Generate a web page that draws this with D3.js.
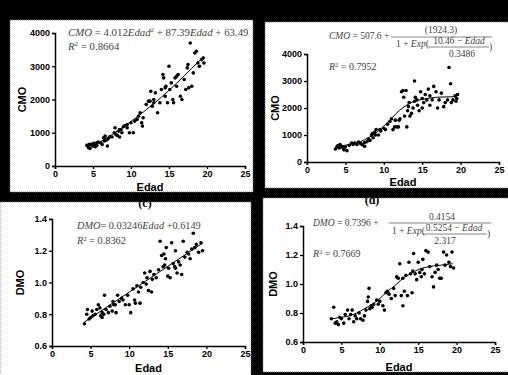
<!DOCTYPE html>
<html>
<head>
<meta charset="utf-8">
<script src="https://cdn.jsdelivr.net/npm/d3@7"></script>
<style>
  body { margin: 0; background: #000; }
  svg { display: block; }
</style>
</head>
<body>
<svg id="chart" width="508" height="375"></svg>
<script>
// ---- data ----
const edadA = [4.2,4.4,4.6,4.8,5.0,5.1,5.3,5.5,5.7,6.0,6.2,6.4,6.6,6.8,6.9,7.0,7.2,7.5,7.8,7.9,8.0,8.2,8.4,8.5,8.7,8.8,9.0,9.2,9.5,9.8,10.3,10.5,10.8,11.0,11.2,11.4,11.5,11.6,12.0,12.5,12.6,12.8,13.0,13.5,13.2,14.0,14.2,14.3,14.5,14.6,14.8,15.0,15.1,15.3,15.5,15.6,15.8,16.0,16.2,16.5,16.7,17.0,17.2,17.4,17.6,17.8,18.0,18.2,18.4,18.6,18.8,19.0,19.3,19.5,19.6,17.5,16.0,14.5,13.0,10.0,9.5,8.5,6.5,5.5,4.5,12.3,13.8];
const cmoA  = [620,560,530,650,600,680,580,620,720,700,650,850,900,780,600,820,880,870,1000,1150,950,920,1050,870,1100,1000,1180,1220,1150,1000,1000,1350,1400,1500,1600,1300,1200,1450,1850,1950,2250,1800,1900,1600,2200,2300,2750,2650,2100,2400,1900,3000,2300,2500,2000,1900,2650,2400,2750,2100,2000,2600,2300,2950,2350,3700,2400,2800,3400,3450,3100,3000,3200,3250,3100,3050,2700,2350,2000,1300,1250,1100,750,700,650,1950,1900];
const fitEdadA = [4.3,6,8,10,12,14,16,18,19.6];
const fitCmoA  = [520,730,1020,1340,1690,2070,2490,2940,3300];

const edadB = [3.7,3.9,4.0,4.2,4.4,4.6,4.8,5.0,5.2,5.5,5.8,6.2,6.5,6.7,7.0,7.2,7.5,7.8,8.0,8.2,8.4,8.5,8.6,8.8,8.9,9.0,9.3,9.6,10.0,10.2,10.8,11.0,11.2,11.4,11.5,11.7,11.9,12.1,12.3,12.5,12.6,12.7,12.9,13.0,13.1,13.3,13.4,13.6,13.8,14.0,14.1,14.3,14.4,14.6,14.8,15.0,15.2,15.4,15.6,15.8,16.0,16.3,16.5,16.8,17.0,17.2,17.5,17.8,18.0,18.3,18.5,18.7,18.8,19.0,19.3,19.5,19.6,19.4,16.0,15.0,14.0,13.2,12.0,10.5,9.5,7.5,6.0,4.3];
const cmoB  = [480,560,600,520,600,550,450,560,420,620,700,700,650,740,680,640,580,750,850,800,1000,1050,900,1100,1000,1200,1000,1150,1250,1200,1500,1600,1200,1300,1550,1300,1300,1600,2600,2650,2400,1700,2650,1300,1900,2200,1700,1800,2000,3000,2400,2300,2100,1900,2600,2000,2200,2500,2300,2700,2100,2300,2800,2600,2000,2300,2550,2050,2200,2300,3500,2900,2200,2300,2450,2350,2500,2250,2450,2350,2250,2050,1550,1400,1200,720,650,650];
const fitEdadB = [3.7,5,6,7,8,9,10,11,12,13,14,15,16,17,18,19.5];
const fitCmoB  = [560,620,680,760,900,1080,1330,1620,1900,2110,2250,2320,2370,2400,2410,2420];

const edadC = [4.2,4.5,4.6,4.8,5.0,5.3,5.6,5.8,6.0,6.2,6.3,6.5,6.7,6.8,7.0,7.3,7.5,7.8,7.9,8.0,8.2,8.3,8.5,8.7,9.0,9.5,9.8,10.0,10.2,10.5,10.7,10.8,11.0,11.2,11.4,11.5,11.8,12.0,12.3,12.5,12.7,12.9,13.0,13.2,13.5,14.0,14.2,14.4,14.5,14.7,14.8,15.0,15.1,15.3,15.5,15.7,15.9,16.0,16.2,16.4,16.6,16.8,17.0,17.2,17.5,17.7,17.9,18.1,18.3,18.5,18.7,19.0,19.3,19.5,16.0,14.6,13.8,12.2,9.2,6.5,5.2];
const dmoC  = [0.74,0.80,0.83,0.77,0.78,0.79,0.80,0.83,0.86,0.84,0.79,0.78,0.80,0.92,0.83,0.81,0.85,0.82,0.88,0.86,0.86,0.81,0.92,0.88,0.90,0.86,0.92,0.86,0.81,0.96,0.89,0.87,0.98,0.94,0.87,0.97,1.00,1.06,1.03,0.95,1.07,0.94,1.02,1.05,1.03,1.26,1.17,1.10,1.18,1.15,1.22,1.04,1.09,1.03,1.25,1.12,1.10,1.20,1.06,1.13,1.11,1.05,1.26,1.16,1.19,1.18,1.15,1.21,1.31,1.22,1.24,1.19,1.25,1.20,1.09,1.11,1.08,0.99,0.89,0.81,0.82];
const fitEdadC = [4.2,19.5];
const fitDmoC  = [0.751,1.248];

const edadD = [3.7,4.0,4.2,4.4,4.6,4.8,5.0,5.5,5.8,6.0,6.2,6.4,6.6,6.8,7.0,7.5,7.8,8.0,8.2,8.4,8.5,8.6,8.7,8.9,9.2,9.6,9.8,10.0,10.4,10.6,10.8,11.0,11.2,11.5,12.0,12.2,12.4,12.6,12.8,13.0,13.2,13.4,13.6,13.8,14.0,14.2,14.4,14.6,14.8,15.0,15.2,15.4,15.6,15.8,16.0,16.3,16.5,16.8,17.0,17.2,17.4,17.6,17.8,18.0,18.3,18.5,18.7,19.0,19.2,19.4,19.6,15.5,14.3,13.0,11.8,9.0,7.3,5.3];
const dmoD  = [0.76,0.84,0.73,0.74,0.72,0.77,0.76,0.79,0.82,0.76,0.79,0.82,0.74,0.78,0.76,0.76,0.75,0.78,0.82,0.88,0.91,0.97,0.83,0.85,0.86,0.89,0.86,0.88,0.85,0.82,0.94,0.95,0.93,0.90,0.92,1.05,1.04,1.14,0.92,0.85,0.95,1.06,0.92,1.15,1.07,0.94,1.21,1.07,1.03,1.15,1.08,1.05,1.17,1.07,1.23,1.22,1.12,1.05,0.98,1.08,1.13,1.10,1.04,1.04,1.22,1.13,1.20,1.15,1.12,1.22,1.11,1.10,1.09,1.04,0.97,0.84,0.80,0.73];
const fitEdadD = [3.7,5,6,7,8,9,10,11,12,13,14,15,16,17,18,19.5];
const fitDmoD  = [0.76,0.77,0.78,0.80,0.83,0.86,0.90,0.95,0.99,1.04,1.07,1.10,1.115,1.125,1.13,1.14];

const xTicks = [0,5,10,15,20,25];
const cmoTicks = [0,1000,2000,3000,4000];
const dmoTicks = [0.6,0.8,1.0,1.2,1.4];

const svg = d3.select("#chart");
const sans = "'Liberation Sans', Arial, sans-serif";
const serif = "'Liberation Serif', 'Times New Roman', serif";

function panel(p) {
    const g = svg.append("g");

    // white box with dotted border
    g.append("rect")
        .attr("x", p.box[0]).attr("y", p.box[1])
        .attr("width", p.box[2]).attr("height", p.box[3])
        .attr("fill", "#fff")
        .attr("stroke", "#777").attr("stroke-dasharray", "1,1").attr("stroke-width", 1);

    const x = d3.scaleLinear().domain([0, 25]).range([p.xr[0], p.xr[1]]);
    const y = d3.scaleLinear().domain(p.yDomain).range([p.yr[0], p.yr[1]]);

    const xAxis = g.append("g").attr("transform", `translate(0,${p.yr[0]})`)
        .call(d3.axisBottom(x).tickValues(xTicks).tickSize(3).tickPadding(2));
    const yAxis = g.append("g").attr("transform", `translate(${p.xr[0]},0)`)
        .call(d3.axisLeft(y).tickValues(p.yTicks).tickSize(3).tickPadding(2).tickFormat(p.fmt));

    [xAxis, yAxis].forEach(a => {
        a.select(".domain").attr("stroke", "#000").attr("stroke-width", 1.5);
        a.selectAll(".tick line").attr("stroke", "#000").attr("stroke-width", 1.3);
        a.selectAll(".tick text")
            .attr("fill", "#000")
            .attr("font-family", sans).attr("font-size", 9).attr("font-weight", "bold");
    });

    // axis titles
    g.append("text")
        .attr("x", (p.xr[0] + p.xr[1]) / 2).attr("y", p.xTitleY)
        .attr("text-anchor", "middle")
        .attr("font-family", sans).attr("font-size", 11).attr("font-weight", "bold")
        .text("Edad");
    g.append("text")
        .attr("transform", `translate(${p.yTitleX},${(p.yr[0] + p.yr[1]) / 2}) rotate(-90)`)
        .attr("text-anchor", "middle")
        .attr("font-family", sans).attr("font-size", 11).attr("font-weight", "bold")
        .text(p.yName);

    // fitted curve
    const line = d3.line()
        .x(d => x(d[0])).y(d => y(d[1]))
        .curve(d3.curveMonotoneX);
    g.append("path")
        .datum(d3.zip(p.fitX, p.fitY))
        .attr("d", line)
        .attr("fill", "none").attr("stroke", "#000").attr("stroke-width", 1);

    // points
    g.append("g").selectAll("circle")
        .data(d3.zip(p.px, p.py)).enter()
        .append("circle")
        .attr("cx", d => x(d[0])).attr("cy", d => y(d[1]))
        .attr("r", 1.8).attr("fill", "#000");

    return g;
}

function eqText(g, xx, yy, size, parts, anchor) {
    const t = g.append("text").attr("x", xx).attr("y", yy)
        .attr("fill", "#444")
        .attr("text-anchor", anchor || "start")
        .attr("font-family", serif).attr("font-size", size);
    parts.forEach(pt => {
        const s = t.append("tspan").text(pt[0]);
        if (pt[1] === "i") s.attr("font-style", "italic");
        if (pt[1] === "sup") s.attr("baseline-shift", "super").attr("font-size", size * 0.65);
    });
    return t;
}

function bar(g, x1, x2, yy) {
    g.append("line").attr("x1", x1).attr("x2", x2).attr("y1", yy).attr("y2", yy)
        .attr("stroke", "#555").attr("stroke-width", 0.7);
}

// (a)
const ga = panel({
    box: [10, 20, 243, 172], xr: [55, 245], yr: [166, 33], yDomain: [0, 4000],
    yTicks: cmoTicks, fmt: d3.format("d"), yName: "CMO", xTitleY: 191, yTitleX: 26,
    px: edadA, py: cmoA, fitX: fitEdadA, fitY: fitCmoA
});
eqText(ga, 68, 36, 10.8, [["CMO", "i"], [" = 4.012"], ["Edad", "i"], ["2", "sup"], [" + 87.39"], ["Edad", "i"], [" + 63.49"]]);
eqText(ga, 68, 50, 10.8, [["R", "i"], ["2", "sup"], [" = 0.8664"]]);

// (b)
const gb = panel({
    box: [265, 22, 250, 166], xr: [307, 499], yr: [162, 54], yDomain: [0, 4000],
    yTicks: cmoTicks, fmt: d3.format("d"), yName: "CMO", xTitleY: 186, yTitleX: 279,
    px: edadB, py: cmoB, fitX: fitEdadB, fitY: fitCmoB
});
eqText(gb, 329, 39, 9.5, [["CMO", "i"], [" = 507.6 + "]]);
eqText(gb, 441, 33, 9.5, [["(1924.3)"]], "middle");
bar(gb, 391, 492, 37);
eqText(gb, 396, 47, 9.5, [["1 + "], ["Exp", "i"], ["("]]);
eqText(gb, 459, 44, 9.5, [["10.46 \u2212 "], ["Edad", "i"]], "middle");
bar(gb, 428, 489, 47);
eqText(gb, 462, 57, 9.5, [["0.3486"]], "middle");
eqText(gb, 489, 50, 9.5, [[")"]]);
eqText(gb, 329, 70, 10, [["R", "i"], ["2", "sup"], [" = 0.7952"]]);

// (c)
const gc = panel({
    box: [0, 202, 251, 180], xr: [52, 245], yr: [346, 219], yDomain: [0.6, 1.4],
    yTicks: dmoTicks, fmt: d3.format(".1f"), yName: "DMO", xTitleY: 372, yTitleX: 24,
    px: edadC, py: dmoC, fitX: fitEdadC, fitY: fitDmoC
});
eqText(gc, 77, 229, 10.3, [["DMO", "i"], ["= 0.03246"], ["Edad", "i"], [" +0.6149"]]);
eqText(gc, 77, 244, 10.3, [["R", "i"], ["2", "sup"], [" = 0.8362"]]);

// (d)
const gd = panel({
    box: [263, 198, 250, 174], xr: [303, 495], yr: [342, 226], yDomain: [0.6, 1.4],
    yTicks: dmoTicks, fmt: d3.format(".1f"), yName: "DMO", xTitleY: 371, yTitleX: 277,
    px: edadD, py: dmoD, fitX: fitEdadD, fitY: fitDmoD
});
eqText(gd, 313, 226, 9.5, [["DMO", "i"], [" = 0.7396 + "]]);
eqText(gd, 442, 220, 9.5, [["0.4154"]], "middle");
bar(gd, 389, 491, 223);
eqText(gd, 392, 234, 9.5, [["1 + "], ["Exp", "i"], ["("]]);
eqText(gd, 454, 231, 9.5, [["0.5254 \u2212 "], ["Edad", "i"]], "middle");
bar(gd, 422, 487, 234);
eqText(gd, 445, 244, 9.5, [["2.317"]], "middle");
eqText(gd, 487, 237, 9.5, [[")"]]);
eqText(gd, 313, 257, 10, [["R", "i"], ["2", "sup"], [" = 0.7669"]]);

// panel letters sitting on the gap
svg.append("text").attr("x", 145).attr("y", 207).attr("text-anchor", "middle")
    .attr("font-family", serif).attr("font-size", 12).attr("font-weight", "bold")
    .attr("fill", "#000").text("(c)");
svg.append("text").attr("x", 372).attr("y", 204).attr("text-anchor", "middle")
    .attr("font-family", serif).attr("font-size", 12).attr("font-weight", "bold")
    .attr("fill", "#000").text("(d)");
</script>
</body>
</html>
